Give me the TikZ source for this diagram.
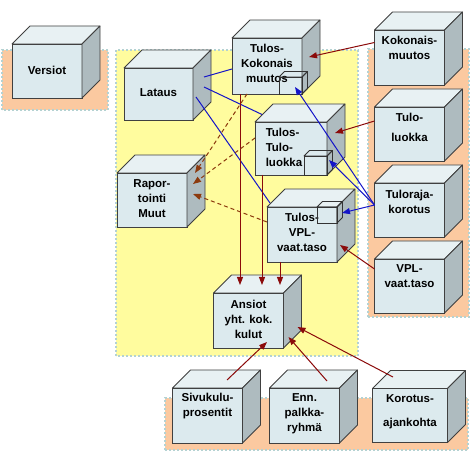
\documentclass[tikz,border=0pt]{standalone}
\usepackage{fontspec}
\setmainfont{Liberation Sans}
\usetikzlibrary{positioning,arrows.meta}

\definecolor{cubefront}{HTML}{DCEAEE}
\definecolor{cubetop}{HTML}{E8F1F3}
\definecolor{cubeside}{HTML}{AEBBBF}
\definecolor{cubeedge}{HTML}{404040}
\definecolor{zoneyellow}{HTML}{FFFC9E}
\definecolor{zonesalmon}{HTML}{FBC9A0}
\definecolor{zoneedge}{HTML}{B4D2D2}
\definecolor{darkred}{HTML}{8B0A0A}
\definecolor{linkblue}{HTML}{1414C8}
\definecolor{dashbrown}{HTML}{8C3A0E}

\newcommand{\cubefaces}[3][]{%
  \filldraw[topface,#1] (#2.north west) -- ++(#3,#3) -- ([shift={(#3,#3)}]#2.north east) -- (#2.north east) -- cycle;
  \filldraw[sideface,#1] (#2.north east) -- ([shift={(#3,#3)}]#2.north east) -- ([shift={(#3,#3)}]#2.south east) -- (#2.south east) -- cycle;
}

\begin{document}
\begin{tikzpicture}[x=1pt, y=1pt, node distance=22pt,
    zone/.style={draw=zoneedge, line width=2pt, dash pattern=on 2pt off 2pt},
    cube/.style={draw=cubeedge, fill=cubefront, line width=0.8pt, minimum width=70pt, minimum height=54pt, inner sep=0pt, outer sep=0pt},
    mini/.style={draw=black!80, line width=0.8pt, minimum width=23pt, minimum height=17pt, inner sep=0pt, outer sep=0pt},
    txt/.style={font=\bfseries\fontsize{11.5}{15}\selectfont, align=center, inner sep=0pt},
    topface/.style={draw=cubeedge, fill=cubetop, line width=0.8pt, line join=round},
    sideface/.style={draw=cubeedge, fill=cubeside, line width=0.8pt, line join=round},
    feed/.style={draw=darkred, line width=1pt, -{Triangle[length=8pt,width=6pt]}},
    dashfeed/.style={feed, draw=dashbrown, dash pattern=on 4pt off 3pt},
    bluelink/.style={draw=linkblue, line width=1pt},
    blueup/.style={bluelink, -{Triangle[length=8pt,width=6pt]}}]
  \useasboundingbox (0,0) rectangle (474,458);

  \filldraw[zone, fill=zonesalmon] (2,348) rectangle (108,408);
  \filldraw[zone, fill=zoneyellow] (116,102) rectangle (358,408);
  \filldraw[zone, fill=zonesalmon] (368,141) rectangle (469,409);
  \filldraw[zone, fill=zonesalmon] (165,8) rectangle (468,60);

  \node[cube, label={[txt,yshift=1pt]center:Versiot}] (versiot) at (47,387) {};
  \node[cube, minimum width=69pt, minimum height=52pt, label={[txt,yshift=1pt]center:Lataus}] (lataus) at (158.5,364) {};
  \node[cube, label={[txt,yshift=1pt]center:{Rapor-\\tointi\\Muut}}] (raport) at (152,258) {};
  \node[cube, minimum height=56pt, label={[txt,yshift=3pt]center:{Tulos-\\Kokonais\\muutos}}] (tkok) at (267,392) {};
  \node[cube, minimum width=72pt, minimum height=53pt, label={[txt,align=left,xshift=-7pt,yshift=1.5pt]center:{Tulos-\\Tulo-\\luokka}}] (ttulo) at (291,309.5) {};
  \node[cube, minimum height=55pt, label={[txt,yshift=2.5pt]center:{Tulos-\\VPL-\\vaat.taso}}] (tvpl) at (302,223.5) {};
  \node[cube, minimum height=55pt, label={[txt,yshift=1.5pt]center:{Ansiot\\yht. kok.\\kulut}}] (ansiot) at (248.5,137.5) {};

  \node[cube, minimum height=55pt, label={[txt,yshift=9.5pt]center:{Kokonais-\\muutos}}] (kokR) at (409.5,400.5) {};
  \node[cube, below=of kokR, label={[txt,yshift=6.5pt]center:{Tulo-\\[5pt]luokka}}] (tuloR) {};
  \node[cube, below=of tuloR, label={[txt,yshift=8.5pt]center:{Tuloraja-\\korotus}}] (rajaR) {};
  \node[cube, below=of rajaR, label={[txt,yshift=9.5pt]center:{VPL-\\vaat.taso}}] (vplR) {};

  \node[cube, minimum height=55pt, label={[txt,yshift=9.5pt]center:{Sivukulu-\\prosentit}}] (sivu) at (207.5,42.5) {};
  \node[cube, minimum height=55pt, right=27pt of sivu, label={[txt,yshift=1.5pt]center:{Enn.\\palkka-\\ryhmä}}] (enn) {};
  \node[cube, minimum width=75pt, right=33pt of enn, label={[txt,yshift=3.5pt]center:{Korotus-\\[9pt]ajankohta}}] (korot) {};

  \foreach \n in {versiot,lataus,raport,tkok,ttulo,tvpl,ansiot,kokR,tuloR,rajaR,vplR,sivu,enn,korot}
    \cubefaces{\n}{18};

  \node[mini, anchor=south east] (tkokbox) at (tkok.south east) {};
  \node[mini, minimum height=19pt, anchor=south east] (ttulobox) at (ttulo.south east) {};
  \node[mini, minimum width=20pt, minimum height=16pt, anchor=north east] (tvplbox) at (tvpl.north east) {};
  \foreach \n in {tkokbox,ttulobox,tvplbox}
    \cubefaces[fill=none, draw=black!80]{\n}{5.5};

  \draw[bluelink] ([shift={(11,17)}]lataus.east) -- ([yshift=-3pt]tkok.west);
  \draw[bluelink] ([shift={(11,7)}]lataus.east) -- ([shift={(7,7.5)}]ttulo.north west);
  \draw[bluelink] ([shift={(3,-3)}]lataus.east) -- ([shift={(3,4)}]tvpl.north west);
  \draw[blueup] ([yshift=5pt]rajaR.west) -- ([shift={(4.5,-1.5)}]tkokbox.center);
  \draw[blueup] ([yshift=5pt]rajaR.west) -- ([shift={(2,5.5)}]ttulobox.east);
  \draw[blueup] ([yshift=5pt]rajaR.west) -- ([shift={(5,2)}]tvplbox.east);

  \draw[feed] ([yshift=15pt]kokR.west) -- ([shift={(7,9)}]tkok.east);
  \draw[feed] ([yshift=13pt]tuloR.west) -- ([shift={(8,15.5)}]ttulo.east);
  \draw[feed] ([yshift=17pt]vplR.west) -- ([shift={(3,-10.5)}]tvpl.east);
  \draw[feed] ([xshift=-27pt]tkok.south) -- ([shift={(-8.5,8)}]ansiot.north);
  \draw[feed] ([xshift=-29pt]ttulo.south) -- ([shift={(13.5,8)}]ansiot.north);
  \draw[feed] ([xshift=-22pt]tvpl.south) -- ([shift={(31.5,8)}]ansiot.north);
  \draw[feed] ([shift={(19.5,8)}]sivu.north) -- ([shift={(18.5,6)}]ansiot.south);
  \draw[feed] ([shift={(22.5,7)}]enn.north) -- ([shift={(5,11)}]ansiot.south east);
  \draw[feed] ([shift={(-17,11.5)}]korot.north) -- ([shift={(14,21)}]ansiot.south east);

  \draw[dashfeed] ([xshift=-20pt]tkok.south) -- ([shift={(8,27)}]raport.east);
  \draw[dashfeed] ([yshift=10.5pt]ttulo.west) -- ([shift={(6,16)}]raport.east);
  \draw[dashfeed] ([yshift=12.5pt]tvpl.west) -- ([shift={(6,6)}]raport.east);
\end{tikzpicture}
\end{document}
